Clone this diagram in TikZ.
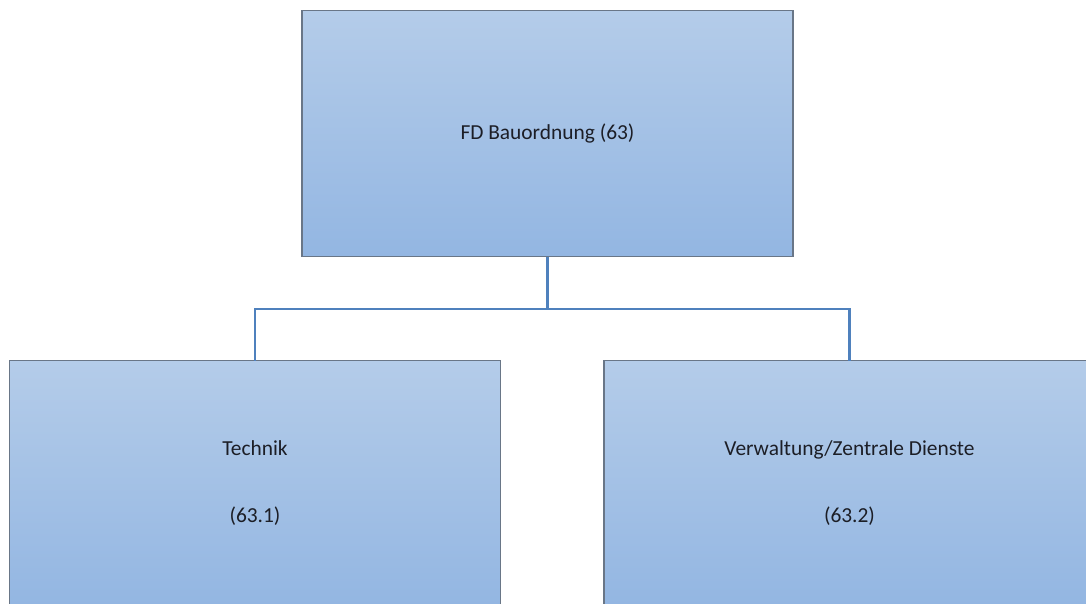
\documentclass[tikz,border=0pt]{standalone}
\usepackage{fontspec}
\setmainfont{Carlito}
\definecolor{boxtop}{RGB}{180,204,233}
\definecolor{boxbot}{RGB}{147,182,226}
\definecolor{boxedge}{RGB}{105,118,135}
\definecolor{connblue}{RGB}{79,129,189}
\definecolor{txt}{RGB}{28,30,38}
\begin{document}
\begin{tikzpicture}[x=1pt,y=-1pt,
  orgbox/.style={draw=boxedge, line width=1.6pt, rectangle, anchor=north west,
    top color=boxtop, bottom color=boxbot, inner sep=0pt, outer sep=0pt,
    minimum width=491pt, minimum height=246pt,
    text=txt, align=center, font=\fontsize{21.4}{26}\selectfont},
  conn/.style={draw=connblue, line width=2.4pt}]
\useasboundingbox (0,0) rectangle (1086,603);
\clip (0,0) rectangle (1086,603);
\fill[white] (0,0) rectangle (1086,603);
\node[orgbox] (top) at (302,10.5) {FD Bauordnung (63)};
\node[orgbox] (left) at (9.5,360.5) {Technik\\[41pt](63.1)};
\node[orgbox] (right) at (604,360.5) {Verwaltung/Zentrale Dienste\\[41pt](63.2)};
\coordinate (mid) at (top.south |- 0,309);
\draw[conn] (top.south) -- (mid) -| (left.north);
\draw[conn] (mid) -| (right.north);
\end{tikzpicture}
\end{document}
